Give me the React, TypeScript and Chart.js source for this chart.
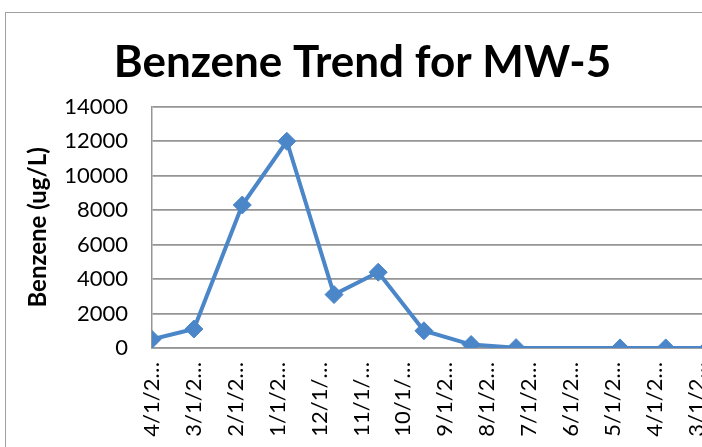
import React, { useEffect, useRef } from "react";
import { Chart, registerables } from "chart.js";

Chart.register(...registerables);

// months since the first sample (axis is a date axis with an 11-month major unit)
const sampleMonths = [0, 11, 23.7, 35.4, 47.8, 59.4, 71.4, 83.8, 95.6, 122.9, 134.9, 146];
const benzeneValues = [500, 1100, 8300, 12000, 3100, 4400, 1000, 200, 20, 5, 5, 5];
const tickLabels = [
  "4/1/2…", "3/1/2…", "2/1/2…", "1/1/2…", "12/1/…", "11/1/…", "10/1/…",
  "9/1/2…", "8/1/2…", "7/1/2…", "6/1/2…", "5/1/2…", "4/1/2…", "3/1/2…",
];
const tickStepMonths = 11;
const yMax = 14000;
const yStep = 2000;

const FONT = "Lato, 'Open Sans', 'DejaVu Sans', sans-serif";
const BLUE = "#4a86c8";
const GRID = "#959595";

export default function App() {
  const ref = useRef<HTMLCanvasElement | null>(null);

  useEffect(() => {
    if (!ref.current) return;
    const chart = new Chart(ref.current, {
      type: "line",
      data: {
        datasets: [
          {
            label: "Benzene",
            data: sampleMonths.map((m, i) => ({ x: m, y: benzeneValues[i] })),
            borderColor: BLUE,
            backgroundColor: BLUE,
            borderWidth: 4,
            pointStyle: "rectRot",
            pointRadius: 9,
            pointBorderWidth: 1,
            pointBackgroundColor: BLUE,
            pointBorderColor: BLUE,
            tension: 0,
          },
        ],
      },
      options: {
        animation: false,
        responsive: false,
        maintainAspectRatio: false,
        layout: { padding: { left: 7, right: 6, top: 0, bottom: 0 } },
        plugins: {
          legend: { display: false },
          tooltip: { enabled: false },
          title: {
            display: true,
            text: "Benzene Trend for MW-5",
            color: "#000",
            font: { family: FONT, size: 44, weight: "bold" },
            padding: { top: 23, bottom: 18 },
          },
        },
        scales: {
          x: {
            type: "linear",
            min: 0,
            max: sampleMonths[sampleMonths.length - 1],
            afterBuildTicks: (scale: any) => {
              scale.ticks = tickLabels.map((_, i) => ({ value: i * tickStepMonths }));
            },
            afterFit: (scale: any) => {
              scale.height = 99;
              scale.paddingLeft = 0;
              scale.paddingRight = 0;
            },
            grid: { display: false },
            border: { display: true, color: GRID, width: 1.5 },
            ticks: {
              autoSkip: false,
              maxRotation: 90,
              minRotation: 90,
              padding: 6,
              color: "#000",
              font: { family: FONT, size: 22 },
              callback: (v: any) => tickLabels[Math.round(Number(v) / tickStepMonths)] ?? "",
            },
          },
          y: {
            min: 0,
            max: yMax,
            afterFit: (scale: any) => {
              scale.width = 139;
            },
            grid: { color: GRID, lineWidth: 1.8, drawTicks: false },
            border: { display: true, color: GRID, width: 1.5 },
            ticks: {
              stepSize: yStep,
              padding: 24,
              color: "#000",
              font: { family: FONT, size: 22 },
              callback: (v: any) => String(v),
            },
            title: {
              display: true,
              text: "Benzene (ug/L)",
              color: "#000",
              font: { family: FONT, size: 24, weight: "bold" },
              padding: { top: 11, bottom: 0 },
            },
          },
        },
      },
    });
    return () => chart.destroy();
  }, []);

  return (
    <div
      style={{
        position: "fixed",
        left: 0,
        top: 0,
        width: 702,
        height: 447,
        overflow: "hidden",
        background: "#fff",
      }}
    >
      <div
        style={{
          position: "absolute",
          left: 5,
          top: 12,
          width: 714,
          height: 470,
          border: "1px solid #a0a0a0",
          boxSizing: "border-box",
        }}
      />
      <canvas
        ref={ref}
        width={712}
        height={434}
        style={{ position: "absolute", left: 6, top: 13, width: 712, height: 434 }}
      />
    </div>
  );
}
